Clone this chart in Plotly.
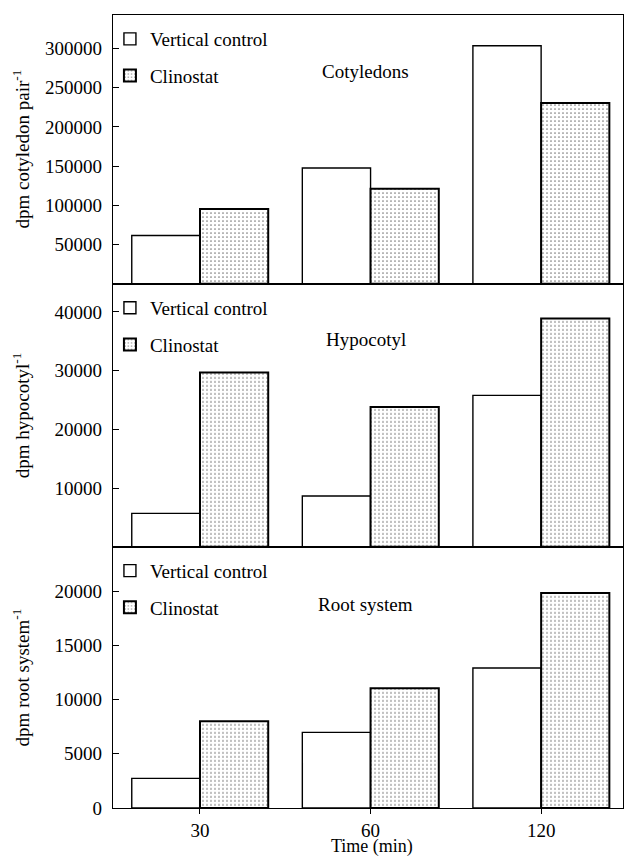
import plotly.graph_objects as go

times = ["30", "60", "120"]
series_names = ["Vertical control", "Clinostat"]

cotyledons_control = [61500, 147600, 303500]
cotyledons_clinostat = [95400, 121200, 230300]
hypocotyl_control = [5700, 8650, 25800]
hypocotyl_clinostat = [29700, 23800, 38900]
root_control = [2730, 6970, 12900]
root_clinostat = [7990, 11030, 19830]

panel_labels = ["Cotyledons", "Hypocotyl", "Root system"]
y_titles = ["dpm cotyledon pair<sup>-1</sup>", "dpm hypocotyl<sup>-1</sup>", "dpm root system<sup>-1</sup>"]
y_ticks = [
    [0, 50000, 100000, 150000, 200000, 250000, 300000],
    [0, 10000, 20000, 30000, 40000],
    [0, 5000, 10000, 15000, 20000],
]
y_ticktext = [
    ["", "50000", "100000", "150000", "200000", "250000", "300000"],
    ["", "10000", "20000", "30000", "40000"],
    ["0", "5000", "10000", "15000", "20000"],
]
y_ranges = [[0, 342600], [0, 44800], [0, 24080]]
x_title = "Time (min)"

FONT = "Liberation Serif, Times New Roman, serif"
FS = 19

data = [
    (cotyledons_control, cotyledons_clinostat),
    (hypocotyl_control, hypocotyl_clinostat),
    (root_control, root_clinostat),
]

domains = [[0.661, 1.0], [0.3294, 0.661], [0.0, 0.3294]]
legend_names = ["legend", "legend2", "legend3"]

fig = go.Figure()
for i, (ctrl, clino) in enumerate(data):
    xa = "x" if i == 0 else f"x{i+1}"
    ya = "y" if i == 0 else f"y{i+1}"
    fig.add_trace(go.Bar(
        x=times, y=ctrl, name=series_names[0], xaxis=xa, yaxis=ya,
        marker=dict(color="white", line=dict(color="black", width=1.4)),
        legend=legend_names[i], legendgroup=f"a{i}", hoverinfo="skip",
    ))
    fig.add_trace(go.Bar(
        x=times, y=clino, name=series_names[1], xaxis=xa, yaxis=ya,
        marker=dict(color="white", line=dict(color="black", width=2),
                    pattern=dict(shape=".", fgcolor="black", bgcolor="white",
                                 size=4, solidity=0.15)),
        legend=legend_names[i], legendgroup=f"b{i}", hoverinfo="skip",
    ))

layout = dict(
    width=624, height=857,
    margin=dict(l=113, r=1, t=15, b=49),
    paper_bgcolor="white", plot_bgcolor="white",
    font=dict(family=FONT, size=FS, color="black"),
    barmode="group", bargap=0.2, bargroupgap=0,
    showlegend=True,
)

legend_y_px = [20, 289, 552]
for i in range(3):
    xkey = "xaxis" if i == 0 else f"xaxis{i+1}"
    ykey = "yaxis" if i == 0 else f"yaxis{i+1}"
    ya = "y" if i == 0 else f"y{i+1}"
    layout[xkey] = dict(
        domain=[0, 1], anchor=ya, range=[-0.51, 2.48],
        showline=True, mirror=True, linecolor="black", linewidth=1.4,
        showgrid=False, zeroline=False,
        ticks="outside" if i == 2 else "", ticklen=5, tickcolor="black",
        showticklabels=(i == 2),
        matches="x" if i > 0 else None,
        automargin=False,
    )
    layout[ykey] = dict(
        domain=domains[i], anchor="x" if i == 0 else f"x{i+1}",
        range=y_ranges[i], tickvals=y_ticks[i], ticktext=y_ticktext[i],
        showline=True, mirror=True, linecolor="black", linewidth=1.4,
        showgrid=False, zeroline=False,
        ticks="inside", ticklen=6, tickcolor="black",
        ticklabelstandoff=6,
        automargin=False,
    )
    layout[legend_names[i]] = dict(
        x=-0.006, xanchor="left",
        y=(808.3 - legend_y_px[i]) / 793.3, yanchor="top",
        bgcolor="rgba(0,0,0,0)", borderwidth=0,
        font=dict(family=FONT, size=FS, color="black"),
        traceorder="grouped", tracegroupgap=9,
    )

annotations = []
label_y_px = [71.7, 340, 605]
for i in range(3):
    annotations.append(dict(
        text=panel_labels[i], xref="paper", yref="paper",
        x=0.496, y=(808.3 - label_y_px[i]) / 793.3,
        xanchor="center", yanchor="middle", showarrow=False,
        font=dict(family=FONT, size=FS, color="black"),
    ))
    annotations.append(dict(
        text=y_titles[i], xref="paper", yref="paper",
        x=(21 - 113) / 510, y=(domains[i][0] + domains[i][1]) / 2,
        xanchor="center", yanchor="middle", textangle=-90, showarrow=False,
        font=dict(family=FONT, size=FS, color="black"),
    ))
annotations.append(dict(
    text=x_title, xref="paper", yref="paper",
    x=(372 - 113) / 510, y=(808.3 - 847) / 793.3,
    xanchor="center", yanchor="middle", showarrow=False,
    font=dict(family=FONT, size=18, color="black"),
))
layout["annotations"] = annotations

fig.update_layout(**layout)
fig.write_html("out.html", config={"displayModeBar": False},
               post_script="document.body.style.margin='0';")
